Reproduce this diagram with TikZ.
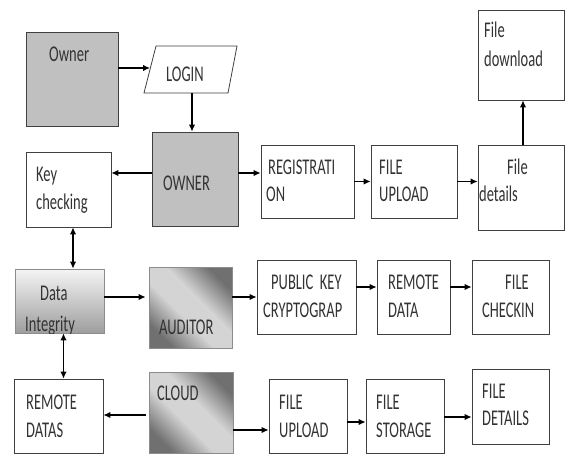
\documentclass[tikz,border=0pt]{standalone}
\usepackage{fontspec}
\usepackage{graphicx}
\setmainfont{Carlito}
\usetikzlibrary{arrows.meta}
\newcommand\tline[1]{\scalebox{1}[1.55]{#1}}
\definecolor{boxgray}{HTML}{C0C0C0}
\definecolor{darkshade}{HTML}{707070}
\definecolor{lightshade}{HTML}{D4D4D4}
\pgfdeclareverticalshading{diagband}{100bp}{color(0bp)=(darkshade); color(25bp)=(darkshade); color(43bp)=(lightshade); color(57bp)=(lightshade); color(75bp)=(darkshade); color(100bp)=(darkshade)}
\begin{document}
\begin{tikzpicture}[x=1pt,y=-1pt,
  box/.style={draw=black!75, line width=0.8pt, inner sep=0, fill=white},
  graybox/.style={box, fill=boxgray},
  shadebox/.style={draw=black!45, line width=0.8pt, inner sep=0,
    shading=diagband, shading angle=-45},
  fadebox/.style={draw=black!45, line width=0.8pt, inner sep=0,
    top color=black!4, bottom color=black!38},
  tx/.style={inner sep=0, anchor=base west, font=\fontsize{14.5}{18}\selectfont, text=black!80},
  arr/.style={line width=1.3pt, -{Latex[length=7pt,width=6.5pt]}},
  darr/.style={line width=1.3pt, {Latex[length=7pt,width=6.5pt]}-{Latex[length=7pt,width=6.5pt]}}]
\path[use as bounding box, fill=white] (0,0) rectangle (565,455);

% boxes
\node[graybox, minimum width=92pt, minimum height=94pt] (owner) at (72,79) {};
\draw[black!75, line width=0.8pt, fill=white] (156,46) -- (237,46) -- (228,93) -- (144,93) -- cycle;
\coordinate (loginW) at (150,68);
\coordinate (loginS) at (192,93);
\node[graybox, minimum width=86pt, minimum height=94pt] (ownerb) at (195,179) {};
\node[box, minimum width=85pt, minimum height=75pt] (keyc) at (68.5,189.5) {};
\node[box, minimum width=93pt, minimum height=73pt] (reg) at (307.5,181.5) {};
\node[box, minimum width=86pt, minimum height=73pt] (fup1) at (414,181.5) {};
\node[box, minimum width=86pt, minimum height=85pt] (fdet) at (521,187.5) {};
\node[box, minimum width=86pt, minimum height=90pt] (fdown) at (521,55) {};
\node[fadebox, minimum width=89pt, minimum height=64pt] (dint) at (59.5,301) {};
\node[shadebox, minimum width=83pt, minimum height=81pt] (aud) at (190.5,307.5) {};
\node[box, minimum width=99pt, minimum height=74pt] (pk) at (306.5,297) {};
\node[box, minimum width=73pt, minimum height=74pt] (rd) at (413.5,297) {};
\node[box, minimum width=77pt, minimum height=74pt] (fchk) at (510.5,297) {};
\node[box, minimum width=89pt, minimum height=74pt] (rdatas) at (58.5,416) {};
\node[shadebox, minimum width=84pt, minimum height=81pt] (cloud) at (191,412.5) {};
\node[box, minimum width=78pt, minimum height=74pt] (fup2) at (308,416) {};
\node[box, minimum width=78pt, minimum height=74pt] (fsto) at (405,416) {};
\node[box, minimum width=77pt, minimum height=75pt] (fdets) at (510.5,406.5) {};

% texts
\node[tx] (t1) at (49,61) {\tline{Owner}};
\node[tx] (t2) at (166,81) {\tline{LOGIN}};
\node[tx] (t3) at (163,190) {\tline{OWNER}};
\node[tx] (t4) at (36,181) {\tline{Key}};
\node[tx] (t5) at (36,209) {\tline{checking}};
\node[tx] (t6) at (268,174) {\tline{REGISTRATI}};
\node[tx] (t7) at (266,201) {\tline{ON}};
\node[tx] (t8) at (379,174) {\tline{FILE}};
\node[tx] (t9) at (379,201) {\tline{UPLOAD}};
\node[tx] (t10) at (507,174) {\tline{File}};
\node[tx] (t11) at (479,201) {\tline{details}};
\node[tx] (t12) at (484,37) {\tline{File}};
\node[tx] (t13) at (484,66) {\tline{download}};
\begin{scope}
\clip (dint.south west) rectangle (dint.north east);
\node[tx] (t14) at (40,300) {\tline{Data}};
\node[tx] (t15) at (25,331) {\tline{Integrity}};
\end{scope}
\node[tx] (t16) at (159,334) {\tline{AUDITOR}};
\node[tx] (t17) at (271,289) {\tline{PUBLIC\ \ KEY}};
\node[tx] (t18) at (263,317) {\tline{CRYPTOGRAP}};
\node[tx] (t19) at (388,289) {\tline{REMOTE}};
\node[tx] (t20) at (388,317) {\tline{DATA}};
\node[tx] (t21) at (505,289) {\tline{FILE}};
\node[tx] (t22) at (482,317) {\tline{CHECKIN}};
\node[tx] (t23) at (26,409) {\tline{REMOTE}};
\node[tx] (t24) at (26,437) {\tline{DATAS}};
\node[tx] (t25) at (157,400) {\tline{CLOUD}};
\node[tx] (t26) at (279,409) {\tline{FILE}};
\node[tx] (t27) at (279,437) {\tline{UPLOAD}};
\node[tx] (t28) at (376,409) {\tline{FILE}};
\node[tx] (t29) at (376,437) {\tline{STORAGE}};
\node[tx] (t30) at (482,398) {\tline{FILE}};
\node[tx] (t31) at (482,425) {\tline{DETAILS}};

% connectors
\draw[arr] (owner.east |- loginW) -- (loginW);
\draw[arr] (loginS) -- (loginS |- ownerb.north);
\draw[arr] ([yshift=6pt]ownerb.west) -- ([yshift=6pt]ownerb.west -| keyc.east);
\draw[arr] ([yshift=6pt]ownerb.east) -- ([yshift=6pt]ownerb.east -| reg.west);
\draw[arr] (reg.east) -- (reg.east -| fup1.west);
\draw[arr] (fup1.east) -- (fup1.east -| fdet.west);
\draw[arr] ([xshift=2pt]fdet.north) -- ([xshift=2pt]fdet.north |- fdown.south);
\draw[darr] ([xshift=4.5pt]keyc.south) -- ([xshift=4.5pt]keyc.south |- dint.north);
\draw[arr] ([yshift=4pt]dint.east) -- ([yshift=4pt,xshift=-3pt]dint.east -| aud.west);
\draw[arr] ([yshift=10.5pt]aud.east) -- ([yshift=10.5pt]aud.east -| pk.west);
\draw[arr] ([yshift=10pt]pk.east) -- ([yshift=10pt]pk.east -| rd.west);
\draw[arr] ([yshift=10pt]rd.east) -- ([yshift=10pt]rd.east -| fchk.west);
\draw[darr] ([xshift=4pt]dint.south) -- ([xshift=4pt]dint.south |- rdatas.north);
\draw[arr] ([yshift=-2.5pt,xshift=-3pt]cloud.west) -- ([yshift=-2.5pt]cloud.west -| rdatas.east);
\draw[arr] ([yshift=-17.5pt]cloud.east) -- ([yshift=-17.5pt]cloud.east -| fup2.west);
\draw[arr] ([yshift=-6pt]fup2.east) -- ([yshift=-6pt]fup2.east -| fsto.west);
\draw[arr] ([yshift=-1pt]fsto.east) -- ([yshift=-1pt]fsto.east -| fdets.west);
\end{tikzpicture}
\end{document}
